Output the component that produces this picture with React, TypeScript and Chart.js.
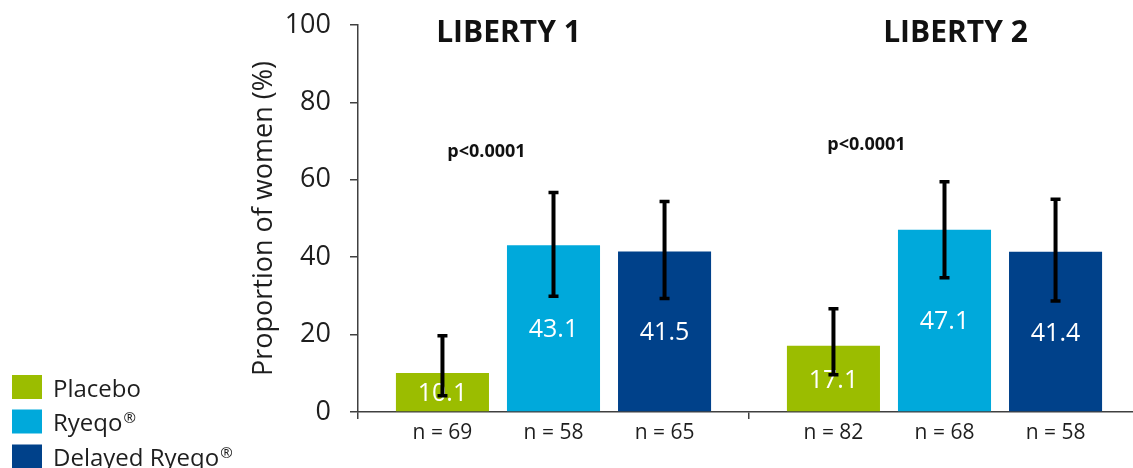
import React, { useEffect, useRef } from 'react';
import { Chart, registerables } from 'chart.js';

Chart.register(...registerables);

// Study groups and series
const categories = ['LIBERTY 1', 'LIBERTY 2'];
const seriesNames = ['Placebo', 'Ryeqo®', 'Delayed Ryeqo®'];
const seriesColors = ['#9bbd00', '#00a9db', '#00418a'];

// Proportion of women (%) per group
const placebo = [10.1, 17.1];
const ryeqo = [43.1, 47.1];
const delayedRyeqo = [41.5, 41.4];

// 95% confidence intervals
const placeboLow = [4.2, 9.6];
const placeboHigh = [19.7, 26.7];
const ryeqoLow = [29.9, 34.7];
const ryeqoHigh = [56.7, 59.5];
const delayedLow = [29.3, 28.7];
const delayedHigh = [54.4, 55.0];

// Sample sizes
const placeboN = [69, 82];
const ryeqoN = [58, 68];
const delayedN = [65, 58];

// p-value annotations (value-axis height of the text baseline)
const pValueText = ['p<0.0001', 'p<0.0001'];
const pValueLevel = [65.9, 67.7];

// Y axis ticks
const yMin = 0;
const yMax = 100;
const yStep = 20;

const FONT = '"Open Sans", "Noto Sans", sans-serif';
const TEXT = '#1e1e1e';
const AXIS = '#404040';

const lows = [placeboLow, ryeqoLow, delayedLow];
const highs = [placeboHigh, ryeqoHigh, delayedHigh];
const sizes = [placeboN, ryeqoN, delayedN];

// draws text, with any trailing ® set as a small raised mark
function drawLegendText(ctx: CanvasRenderingContext2D, text: string, x: number, y: number) {
  const hasMark = text.endsWith('®');
  const main = hasMark ? text.slice(0, -1) : text;
  ctx.font = `24px ${FONT}`;
  ctx.fillText(main, x, y);
  if (hasMark) {
    const w = ctx.measureText(main).width;
    ctx.font = `15px ${FONT}`;
    ctx.fillText('®', x + w + 1, y - 8);
  }
}

const overlayPlugin = {
  id: 'overlay',
  afterDraw(chart: any) {
    const { ctx } = chart;
    const xs = chart.scales.x;
    const ys = chart.scales.y;

    // value labels and sample sizes
    chart.data.datasets.forEach((ds: any, di: number) => {
      const meta = chart.getDatasetMeta(di);
      meta.data.forEach((bar: any, i: number) => {
        const p = bar.getProps(['x', 'y', 'base'], true);
        ctx.save();
        ctx.textAlign = 'center';
        ctx.textBaseline = 'alphabetic';
        ctx.fillStyle = '#ffffff';
        ctx.font = `25px ${FONT}`;
        ctx.fillText(Number(ds.data[i]).toFixed(1), p.x, (p.y + p.base) / 2 + 9);
        ctx.fillStyle = TEXT;
        ctx.font = `21px ${FONT}`;
        ctx.fillText(`n = ${sizes[di][i]}`, p.x, ys.bottom + 27);
        ctx.restore();
      });
    });

    // error bars
    chart.data.datasets.forEach((_ds: any, di: number) => {
      const meta = chart.getDatasetMeta(di);
      meta.data.forEach((bar: any, i: number) => {
        const bx = bar.getProps(['x'], true).x;
        const yLo = ys.getPixelForValue(lows[di][i]);
        const yHi = ys.getPixelForValue(highs[di][i]);
        ctx.save();
        ctx.strokeStyle = '#000000';
        ctx.lineWidth = 4;
        ctx.beginPath();
        ctx.moveTo(bx, yLo);
        ctx.lineTo(bx, yHi);
        ctx.stroke();
        ctx.lineWidth = 3.5;
        ctx.beginPath();
        ctx.moveTo(bx - 5, yLo);
        ctx.lineTo(bx + 5, yLo);
        ctx.moveTo(bx - 5, yHi);
        ctx.lineTo(bx + 5, yHi);
        ctx.stroke();
        ctx.restore();
      });
    });

    // study titles and p-values
    const titleShift = [-45, 11];
    const pShift = [-67, -78];
    categories.forEach((c, i) => {
      const cx = xs.getPixelForValue(i);
      ctx.save();
      ctx.fillStyle = '#111111';
      ctx.textAlign = 'center';
      ctx.textBaseline = 'alphabetic';
      ctx.font = `bold 30px ${FONT}`;
      ctx.fillText(c, cx + titleShift[i], chart.chartArea.top + 17);
      ctx.font = `bold 18px ${FONT}`;
      ctx.fillText(pValueText[i], cx + pShift[i], ys.getPixelForValue(pValueLevel[i]));
      ctx.restore();
    });

    // legend, bottom left
    const rowBase = [396.5, 431, 466];
    seriesNames.forEach((name, i) => {
      ctx.save();
      ctx.fillStyle = seriesColors[i];
      ctx.fillRect(12, rowBase[i] - 21.5, 30, 24);
      ctx.fillStyle = TEXT;
      ctx.textAlign = 'left';
      ctx.textBaseline = 'alphabetic';
      drawLegendText(ctx, name, 53, rowBase[i]);
      ctx.restore();
    });
  },
};

export default function App() {
  const canvasRef = useRef<HTMLCanvasElement | null>(null);

  useEffect(() => {
    if (!canvasRef.current) return;
    const values = [placebo, ryeqo, delayedRyeqo];
    const chart = new Chart(canvasRef.current, {
      type: 'bar',
      data: {
        labels: categories,
        datasets: seriesNames.map((name, i) => ({
          label: name,
          data: values[i],
          backgroundColor: seriesColors[i],
          borderWidth: 0,
          categoryPercentage: 0.852,
          barPercentage: 0.838,
        })),
      },
      options: {
        responsive: false,
        animation: false,
        devicePixelRatio: 1,
        layout: { padding: { top: 25, right: 10, left: 0, bottom: 0 } },
        plugins: {
          legend: { display: false },
          tooltip: { enabled: false },
        },
        scales: {
          x: {
            offset: true,
            grid: {
              display: true,
              offset: true,
              drawOnChartArea: false,
              drawTicks: true,
              tickLength: 7,
              color: AXIS,
              lineWidth: 1.5,
            },
            border: { display: true, color: AXIS, width: 1.5 },
            ticks: { display: false },
            afterFit: (scale: any) => {
              scale.height = 56;
            },
          },
          y: {
            min: yMin,
            max: yMax,
            ticks: {
              stepSize: yStep,
              padding: 19,
              color: TEXT,
              font: { family: FONT, size: 27 },
            },
            grid: {
              display: true,
              drawOnChartArea: false,
              drawTicks: true,
              tickLength: 8,
              color: AXIS,
              lineWidth: 1.5,
            },
            border: { display: true, color: AXIS, width: 1.5 },
            title: {
              display: true,
              text: 'Proportion of women (%)',
              color: TEXT,
              font: { family: FONT, size: 27 },
              padding: { top: 248, bottom: 0 },
            },
            afterFit: (scale: any) => {
              scale.width = 358;
              scale.paddingTop = 0;
              scale.paddingBottom = 0;
            },
          },
        },
      },
      plugins: [overlayPlugin],
    });
    return () => chart.destroy();
  }, []);

  return (
    <div
      style={{
        position: 'fixed',
        left: 0,
        top: 0,
        width: 1133,
        height: 468,
        overflow: 'hidden',
        background: '#ffffff',
      }}
    >
      <canvas ref={canvasRef} width={1150} height={468} style={{ display: 'block' }} />
    </div>
  );
}
